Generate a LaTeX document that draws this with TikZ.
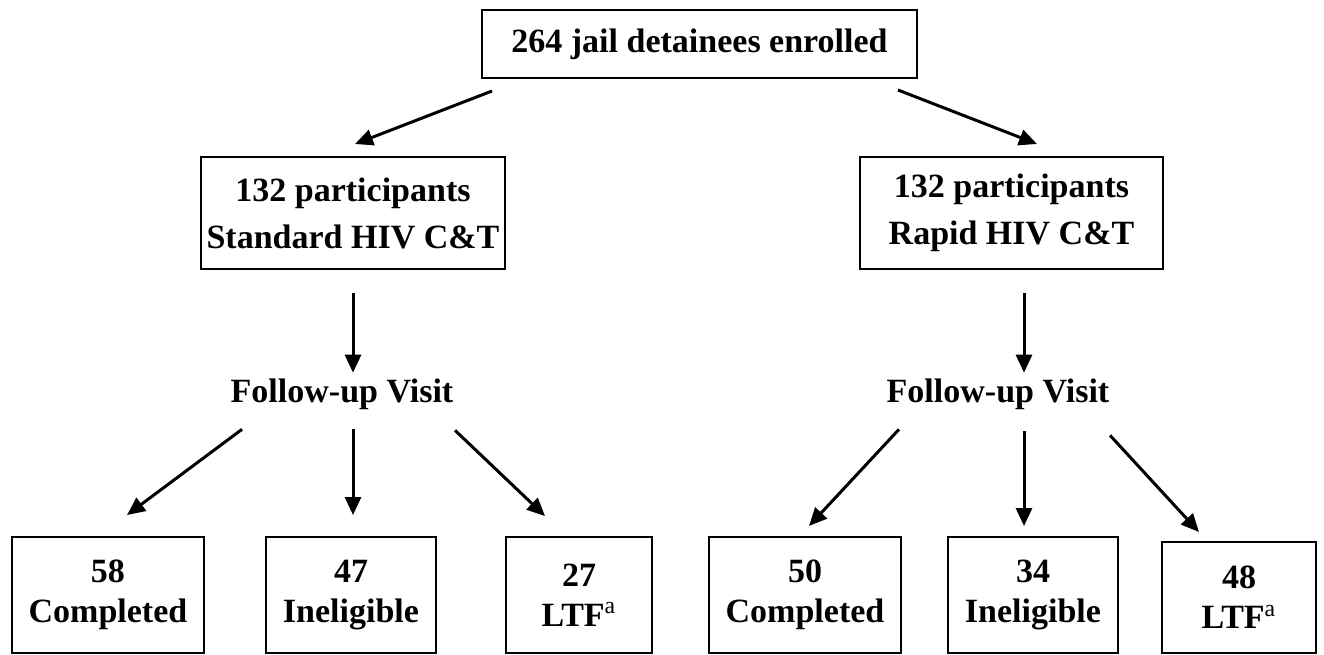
\documentclass[tikz,border=0pt]{standalone}
\usepackage{fontspec}
\setmainfont{Liberation Serif}
\usetikzlibrary{arrows.meta,calc}
\tikzset{
  cuadro/.style={
    draw=black,
    line width=1pt,
    align=center,
    inner sep=2pt,
    font=\fontsize{17}{23.5}\selectfont\bfseries
  },
  resultado/.style={
    cuadro,
    minimum height=58pt,
    font=\fontsize{17}{20}\selectfont\bfseries
  },
  visita/.style={
    inner sep=0pt,
    font=\fontsize{17}{20}\selectfont\bfseries
  },
  arrow/.style={
    -{Triangle[length=9pt,width=8pt]},
    line width=1.5pt,
    black
  }
}
\newcommand{\ltfnota}{LTF\textsuperscript{\mdseries a}}

\begin{document}
\begin{tikzpicture}[x=0.5pt,y=-0.5pt]
\useasboundingbox (0,0) rectangle (1324,654);

\node[cuadro, minimum width=217.5pt, minimum height=34pt] (top) at (699.5,44) {264 jail detainees enrolled};

\node[cuadro, minimum width=152pt, minimum height=56pt] (std) at (353,213) {132 participants\\Standard HIV C\&T};
\node[cuadro, minimum width=151.5pt, minimum height=56pt] (rap) at (1011.5,213) {132 participants\\Rapid HIV C\&T};

\node[visita] (fu1) at (342,394.5) {Follow-up Visit};
\node[visita] (fu2) at (998,394.5) {Follow-up Visit};

\node[resultado, minimum width=96pt] (b1) at (108,595) {58\\Completed};
\node[resultado, minimum width=85pt] (b2) at (351,595) {47\\Ineligible};
\node[resultado, minimum width=73pt] (b3) at (579,595) {27\\\ltfnota};
\node[resultado, minimum width=96pt] (b4) at (805,595) {50\\Completed};
\node[resultado, minimum width=85pt] (b5) at (1033,595) {34\\Ineligible};
\node[resultado, minimum width=77pt, minimum height=55.5pt] (b6) at (1239,597.5) {48\\\ltfnota};

\draw[arrow] ($(top.south west)+(11,12)$) -- ($(std.north)+(2,-12)$);
\draw[arrow] ($(top.south east)+(-20,11)$) -- ($(rap.north)+(25.5,-12)$);

\draw[arrow, shorten >=3pt] ($(std.south)+(0,23)$) -- (std.south |- fu1.north);
\draw[arrow, shorten >=3pt] ($(rap.south)+(12.5,23)$) -- ($(rap.south |- fu2.north)+(12.5,0)$);

\draw[arrow] ($(fu1.south)+(-100,19)$) -- ($(b1.north)+(19,-21)$);
\draw[arrow] ($(fu1.south)+(11,19)$) -- ($(b2.north)+(2,-21)$);
\draw[arrow] ($(fu1.south)+(113,20)$) -- ($(b3.north)+(-34,-20)$);
\draw[arrow] ($(fu2.south)+(-99,19)$) -- ($(b4.north)+(4,-10)$);
\draw[arrow] ($(fu2.south)+(26,21)$) -- ($(b5.north)+(-9,-10)$);
\draw[arrow] ($(fu2.south)+(112,25)$) -- ($(b6.north)+(-40,-9)$);
\end{tikzpicture}
\end{document}
